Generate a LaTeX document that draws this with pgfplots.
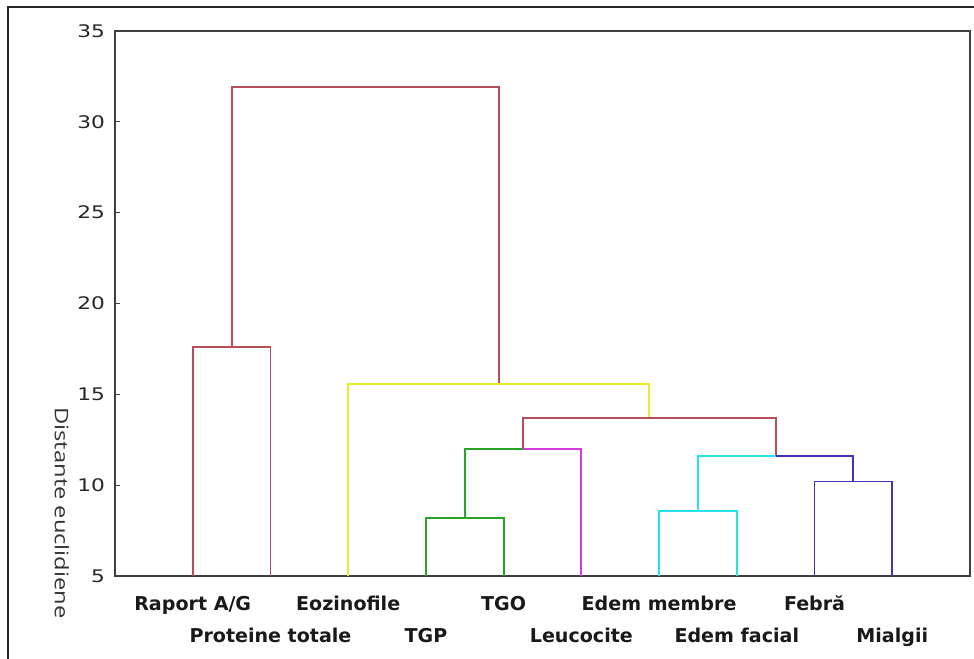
\documentclass[border=0pt]{standalone}
\usepackage{fontspec}
\setmainfont{DejaVu Sans}
\newfontfamily\ylfont{Open Sans}
\usepackage{pgfplots}
\pgfplotsset{compat=1.18}
\definecolor{cred}{RGB}{180,78,90}
\definecolor{cyel}{RGB}{235,235,40}
\definecolor{cgrn}{RGB}{40,165,40}
\definecolor{cmag}{RGB}{215,60,220}
\definecolor{ccya}{RGB}{40,225,235}
\definecolor{cblu}{RGB}{70,50,185}
\begin{document}
\begin{tikzpicture}[x=0.75pt,y=0.75pt]
\useasboundingbox (0,0) rectangle (974,659);
\draw[line width=1.4pt, black!85] (8,0) -- (8,652) -- (974,652);
\begin{axis}[
  at={(86.25pt,62.25pt)}, anchor=south west, scale only axis,
  width=641.25pt, height=408.75pt,
  xmin=0, xmax=11, ymin=5, ymax=35,
  xtick={1,...,10},
  xticklabels={Raport A/G,\raisebox{-24pt}{Proteine totale},Eozinofile,\raisebox{-24pt}{TGP},TGO,\raisebox{-24pt}{Leucocite},Edem membre,\raisebox{-24pt}{Edem facial},Febră,\raisebox{-24pt}{Mialgii}},
  ytick={5,10,...,35},
  tick pos=left,
  yticklabel={\scalebox{1.25}[1]{\pgfmathprintnumber{\tick}}},
  /pgf/number format/assume math mode=true,
  axis line style={draw=black!75, line width=1.1pt},
  major tick length=4pt,
  tick style={black!75, line width=0.8pt},
  yticklabel style={font=\fontsize{13}{15}\selectfont, text=black!85, xshift=-4pt},
  xticklabel style={font=\bfseries\fontsize{14.3}{16}\selectfont, text=black!90, anchor=base, yshift=-26pt},
  ylabel={\ylfont\fontsize{14}{16}\selectfont\scalebox{1.27}[1]{Distante euclidiene}},
  ylabel style={at={(axis description cs:-0.062,0.1156)}, anchor=center, rotate=180, text=black!80},
  every axis plot/.append style={line width=1.4pt},
]
\addplot[cred] coordinates {(1.5,17.6) (1.5,31.9) (4.9375,31.9) (4.9375,15.55)};
\addplot[cred] coordinates {(1,5) (1,17.6) (2,17.6) (2,5)};
\addplot[cyel] coordinates {(3,5) (3,15.55) (6.875,15.55) (6.875,13.7)};
\addplot[cred] coordinates {(5.25,12.0) (5.25,13.7) (8.5,13.7) (8.5,11.6)};
\addplot[cgrn] coordinates {(4,5) (4,8.2) (5,8.2) (5,5)};
\addplot[cgrn] coordinates {(4.5,8.2) (4.5,12.0) (5.25,12.0)};
\addplot[cmag] coordinates {(5.25,12.0) (6,12.0) (6,5)};
\addplot[ccya] coordinates {(7,5) (7,8.6) (8,8.6) (8,5)};
\addplot[ccya] coordinates {(7.5,8.6) (7.5,11.6) (8.5,11.6)};
\addplot[cblu] coordinates {(8.5,11.6) (9.5,11.6) (9.5,10.2)};
\addplot[cblu] coordinates {(9,5) (9,10.2) (10,10.2) (10,5)};
\end{axis}
\end{tikzpicture}
\end{document}
